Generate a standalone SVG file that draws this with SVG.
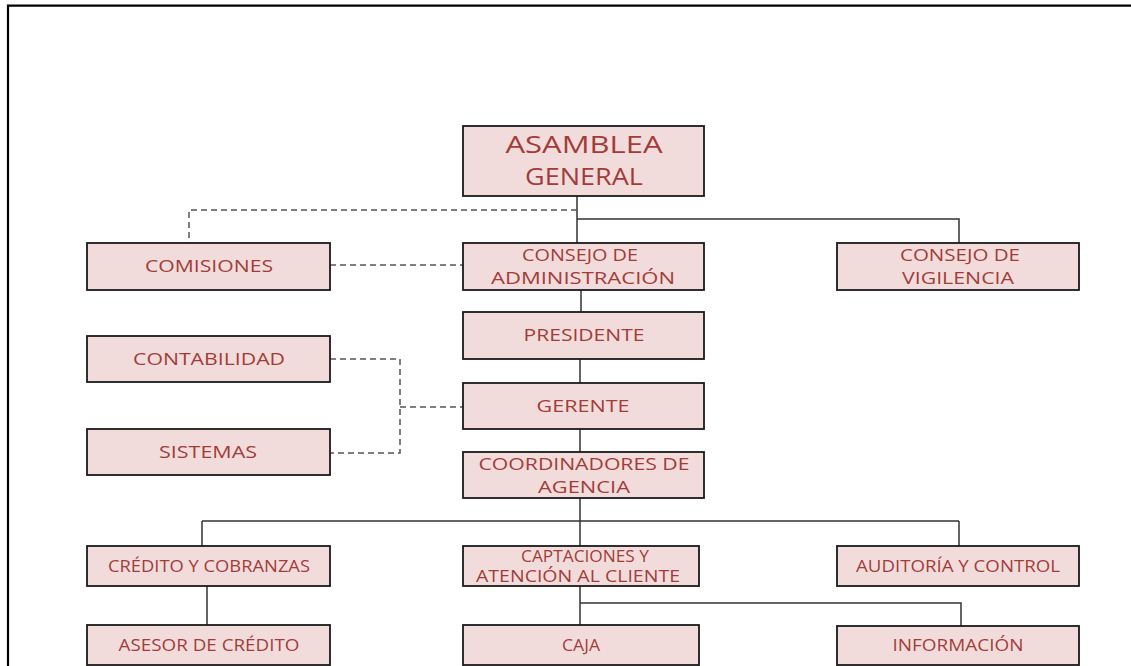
<svg xmlns="http://www.w3.org/2000/svg" width="1131" height="666" viewBox="0 0 1131 666">
<style>
.box{fill:#F2DCDB;stroke:#1a1a1a;stroke-width:1.8}
.t{font-family:"Open Sans","Liberation Sans",sans-serif;font-size:16.5px;font-weight:500;fill:#A23C3A;text-anchor:middle}
.big{font-size:23px;font-weight:400}
.sm{font-size:15.5px}
.ln{fill:none;stroke:#333;stroke-width:1.5}
.ds{fill:none;stroke:#555;stroke-width:1.5;stroke-dasharray:6 4}
.frame{fill:none;stroke:#000;stroke-width:2.2}
</style>
<rect width="1131" height="666" fill="#fff"/>
<path class="frame" d="M8 666 V5.7 H1131"/>
<g id="connectors">
<path class="ln" d="M577 196 V243 M577 219 H959 V243 M581 290 V312 M580 359 V383 M580 429 V452 M580 498 V546 M202 521 H959 M202 521 V546 M959 521 V546 M207 586 V625 M580 586 V625 M580 603 H961 V626"/>
<path class="ds" d="M577 210 H189 V243 M330 265 H463 M330 359 H400 V453 H330 M400 407 H463"/>
</g>
<g id="asamblea"><rect class="box" x="463" y="126" width="241" height="70"/><text class="t big" x="584" y="153" textLength="157" lengthAdjust="spacingAndGlyphs">ASAMBLEA</text><text class="t big" x="584" y="185" textLength="118" lengthAdjust="spacingAndGlyphs">GENERAL</text></g>
<g id="comisiones"><rect class="box" x="87" y="243" width="243" height="47"/><text class="t" x="209" y="272" textLength="128" lengthAdjust="spacingAndGlyphs">COMISIONES</text></g>
<g id="administracion"><rect class="box" x="463" y="243" width="241" height="47"/><text class="t" x="580" y="261" textLength="116" lengthAdjust="spacingAndGlyphs">CONSEJO DE</text><text class="t" x="583" y="284" textLength="184" lengthAdjust="spacingAndGlyphs">ADMINISTRACIÓN</text></g>
<g id="vigilencia"><rect class="box" x="837" y="243" width="242" height="47"/><text class="t" x="960" y="261" textLength="120" lengthAdjust="spacingAndGlyphs">CONSEJO DE</text><text class="t" x="958" y="284" textLength="112" lengthAdjust="spacingAndGlyphs">VIGILENCIA</text></g>
<g id="presidente"><rect class="box" x="463" y="312" width="241" height="47"/><text class="t" x="584" y="341" textLength="121" lengthAdjust="spacingAndGlyphs">PRESIDENTE</text></g>
<g id="contabilidad"><rect class="box" x="87" y="336" width="243" height="46"/><text class="t" x="209" y="365" textLength="152" lengthAdjust="spacingAndGlyphs">CONTABILIDAD</text></g>
<g id="gerente"><rect class="box" x="463" y="383" width="241" height="46"/><text class="t" x="583" y="412" textLength="93" lengthAdjust="spacingAndGlyphs">GERENTE</text></g>
<g id="sistemas"><rect class="box" x="87" y="429" width="243" height="46"/><text class="t" x="208" y="458" textLength="98" lengthAdjust="spacingAndGlyphs">SISTEMAS</text></g>
<g id="coordinadores"><rect class="box" x="463" y="452" width="241" height="46"/><text class="t" x="584" y="470" textLength="211" lengthAdjust="spacingAndGlyphs">COORDINADORES DE</text><text class="t" x="584" y="493" textLength="92" lengthAdjust="spacingAndGlyphs">AGENCIA</text></g>
<g id="credito"><rect class="box" x="87" y="546" width="243" height="40"/><text class="t sm" x="209" y="572" textLength="202" lengthAdjust="spacingAndGlyphs">CRÉDITO Y COBRANZAS</text></g>
<g id="captaciones"><rect class="box" x="463" y="546" width="236" height="40"/><text class="t sm" x="585" y="562" textLength="128" lengthAdjust="spacingAndGlyphs">CAPTACIONES Y</text><text class="t sm" x="578" y="582" textLength="204" lengthAdjust="spacingAndGlyphs">ATENCIÓN AL CLIENTE</text></g>
<g id="auditoria"><rect class="box" x="837" y="546" width="242" height="40"/><text class="t sm" x="958" y="572" textLength="204" lengthAdjust="spacingAndGlyphs">AUDITORÍA Y CONTROL</text></g>
<g id="asesor"><rect class="box" x="87" y="625" width="243" height="40"/><text class="t sm" x="209" y="651" textLength="181" lengthAdjust="spacingAndGlyphs">ASESOR DE CRÉDITO</text></g>
<g id="caja"><rect class="box" x="463" y="625" width="236" height="40"/><text class="t sm" x="581" y="651" textLength="38" lengthAdjust="spacingAndGlyphs">CAJA</text></g>
<g id="informacion"><rect class="box" x="837" y="626" width="242" height="39"/><text class="t sm" x="958" y="651" textLength="131" lengthAdjust="spacingAndGlyphs">INFORMACIÓN</text></g>
</svg>
